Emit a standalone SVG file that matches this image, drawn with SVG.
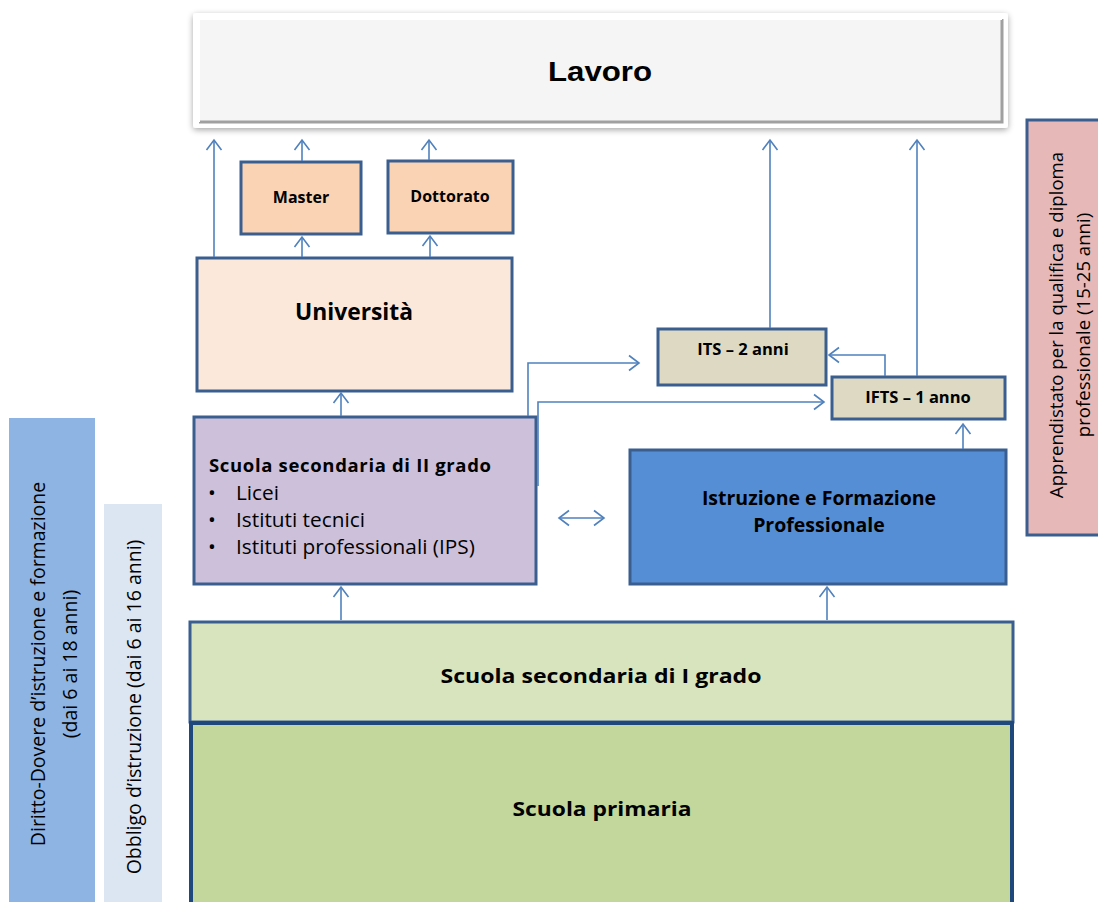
<svg xmlns="http://www.w3.org/2000/svg" width="1098" height="902" viewBox="0 0 1098 902">
<style>
.box{stroke:#3A5F8F;stroke-width:3}
.c{fill:none;stroke:#4F81BD;stroke-width:1.6}
.t{font-family:"Open Sans","Noto Sans",sans-serif;fill:#000}
.b{font-weight:bold}
.m{text-anchor:middle}
</style>
<defs>
<marker id="ah" markerUnits="userSpaceOnUse" viewBox="-12 -9 14 18" markerWidth="14" markerHeight="18" refX="0" refY="0" orient="auto-start-reverse">
<path d="M-10,-7.5 L0,0 L-10,7.5" fill="none" stroke="#4F81BD" stroke-width="1.6"/>
</marker>
<filter id="sh" x="-5%" y="-20%" width="110%" height="140%">
<feGaussianBlur in="SourceAlpha" stdDeviation="3"/>
<feOffset dx="0" dy="2"/>
<feComponentTransfer><feFuncA type="linear" slope="0.35"/></feComponentTransfer>
<feMerge><feMergeNode/><feMergeNode in="SourceGraphic"/></feMerge>
</filter>
</defs>
<rect width="1098" height="902" fill="#fff"/>

<g id="diritto">
<rect x="9" y="418" width="86" height="490" fill="#8EB4E3"/>
<text class="t m" font-size="19.5" transform="translate(45,664) rotate(-90)">Diritto-Dovere d’istruzione e formazione</text>
<text class="t m" font-size="19.5" transform="translate(77,664) rotate(-90)">(dai 6 ai 18 anni)</text>
</g>
<g id="obbligo">
<rect x="104" y="504" width="58" height="404" fill="#DCE6F2"/>
<text class="t m" font-size="19.5" transform="translate(141,707) rotate(-90)">Obbligo d’istruzione (dai 6 ai 16 anni)</text>
</g>
<g id="apprendistato">
<rect x="1027" y="120" width="80" height="415" fill="#E6B9B8" class="box"/>
<text class="t m" font-size="18.6" transform="translate(1063,325) rotate(-90)">Apprendistato per la qualifica e diploma</text>
<text class="t m" font-size="18.6" transform="translate(1090,325) rotate(-90)">professionale (15-25 anni)</text>
</g>

<g id="lavoro">
<rect x="193" y="13" width="815" height="115" rx="3" fill="#fff" filter="url(#sh)"/>
<rect x="199" y="19" width="803" height="103" fill="#F5F5F5"/>
<path d="M199,122 L1002,122 L1002,19" fill="none" stroke="#A0A0A0" stroke-width="3"/>
<path d="M199,122 L199,19 L1002,19" fill="none" stroke="#FFFFFF" stroke-width="2"/>
<text x="600" y="81" font-family="Liberation Sans,Arial,sans-serif" font-weight="bold" font-size="28" text-anchor="middle" textLength="104" lengthAdjust="spacingAndGlyphs">Lavoro</text>
</g>

<g id="master">
<rect x="241" y="162" width="120" height="72" fill="#FAD3B4" class="box"/>
<text class="t b m" x="301" y="203" font-size="16">Master</text>
</g>
<g id="dottorato">
<rect x="388" y="161" width="125" height="72" fill="#FAD3B4" class="box"/>
<text class="t b m" x="450" y="202" font-size="16">Dottorato</text>
</g>
<g id="universita">
<rect x="197" y="258" width="315" height="133" fill="#FCE8DA" class="box"/>
<text class="t b m" x="354" y="320" font-size="22.8">Università</text>
</g>
<g id="its">
<rect x="658" y="329" width="168" height="56" fill="#DDD9C3" class="box"/>
<text class="t b m" x="743" y="355" font-size="16.5">ITS – 2 anni</text>
</g>
<g id="ifts">
<rect x="832" y="377" width="173" height="42" fill="#DDD9C3" class="box"/>
<text class="t b m" x="918" y="403" font-size="16.5">IFTS – 1 anno</text>
</g>
<g id="secondaria2">
<rect x="194" y="417" width="342" height="167" fill="#CCC0DA" class="box"/>
<text class="t b" x="209" y="472" font-size="18.5" textLength="282" lengthAdjust="spacing">Scuola secondaria di II grado</text>
<text class="t" font-size="20.8">
<tspan x="208" y="500">•</tspan><tspan x="236" y="500">Licei</tspan>
<tspan x="208" y="527">•</tspan><tspan x="236" y="527">Istituti tecnici</tspan>
<tspan x="208" y="554">•</tspan><tspan x="236" y="554">Istituti professionali (IPS)</tspan>
</text>
</g>
<g id="iefp">
<rect x="630" y="450" width="376" height="134" fill="#558ED5" class="box"/>
<text class="t b m" x="819" y="505" font-size="19.5">Istruzione e Formazione</text>
<text class="t b m" x="819" y="532" font-size="19.5">Professionale</text>
</g>
<g id="secondaria1">
<rect x="190" y="622" width="823" height="100" fill="#D7E4BD" stroke="#3A5F8F" stroke-width="3"/>
<text class="t b m" x="601" y="683" font-size="20" textLength="321" lengthAdjust="spacingAndGlyphs">Scuola secondaria di I grado</text>
</g>
<g id="primaria">
<rect x="191" y="723" width="821" height="190" fill="#C3D69B" stroke="#1F497D" stroke-width="4"/>
<text class="t b m" x="602" y="816" font-size="20" textLength="179" lengthAdjust="spacingAndGlyphs">Scuola primaria</text>
</g>

<g id="connectors">
<line class="c" x1="214" y1="257" x2="214" y2="140" marker-end="url(#ah)"/>
<line class="c" x1="302" y1="161" x2="302" y2="140" marker-end="url(#ah)"/>
<line class="c" x1="429" y1="160" x2="429" y2="140" marker-end="url(#ah)"/>
<line class="c" x1="770" y1="328" x2="770" y2="140" marker-end="url(#ah)"/>
<line class="c" x1="917" y1="376" x2="917" y2="140" marker-end="url(#ah)"/>
<line class="c" x1="302" y1="257" x2="302" y2="237" marker-end="url(#ah)"/>
<line class="c" x1="430" y1="257" x2="430" y2="236" marker-end="url(#ah)"/>
<line class="c" x1="341" y1="416" x2="341" y2="393" marker-end="url(#ah)"/>
<polyline class="c" points="528,416 528,363 639,363" marker-end="url(#ah)"/>
<polyline class="c" points="538,486 538,402 824,402" marker-end="url(#ah)"/>
<polyline class="c" points="885,376 885,355 829,355" marker-end="url(#ah)"/>
<line class="c" x1="963" y1="449" x2="963" y2="424" marker-end="url(#ah)"/>
<line class="c" x1="559" y1="518" x2="604" y2="518" marker-start="url(#ah)" marker-end="url(#ah)"/>
<line class="c" x1="341" y1="620" x2="341" y2="587" marker-end="url(#ah)"/>
<line class="c" x1="827" y1="620" x2="827" y2="587" marker-end="url(#ah)"/>
</g>
</svg>
